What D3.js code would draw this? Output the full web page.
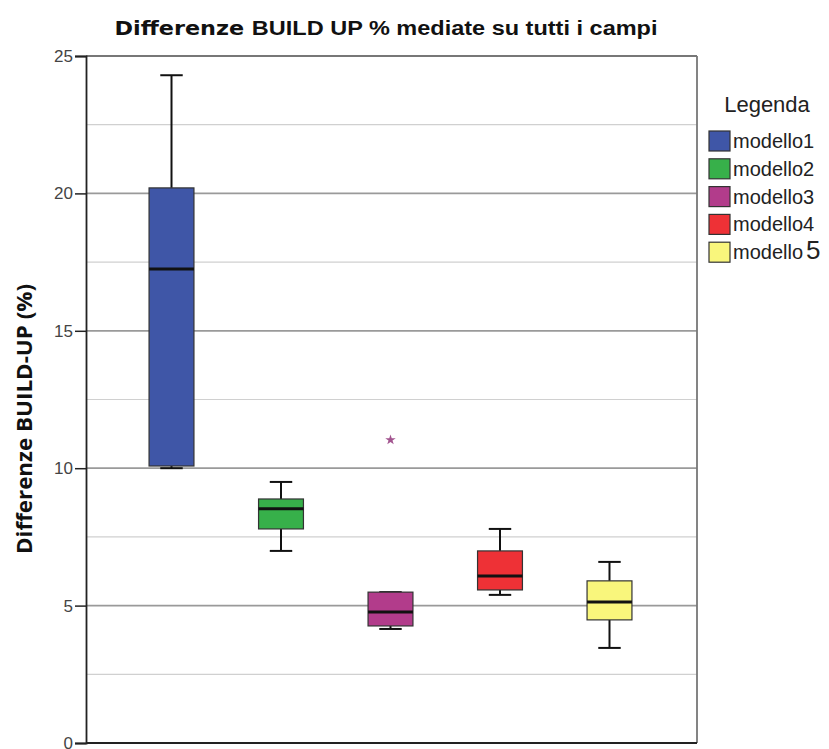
<!DOCTYPE html>
<html><head><meta charset="utf-8">
<script src="https://cdn.jsdelivr.net/npm/d3@7"></script>
<style>body{margin:0;background:#fff}</style>
</head><body>
<script>
const categories = ["modello1","modello2","modello3","modello4","modello5"];
const colors = ["#3f56a7","#37b04a","#b23c8b","#ee3136","#f9f67c"];
const whiskerLow  = [10.0, 6.99, 4.15, 5.39, 3.46];
const q1          = [10.08, 7.79, 4.26, 5.57, 4.48];
const medians     = [17.25, 8.52, 4.77, 6.08, 5.13];
const q3          = [20.2, 8.88, 5.49, 6.99, 5.90];
const whiskerHigh = [24.3, 9.5, 5.49, 7.79, 6.59];
const outliers    = [{cat:"modello3", value:11.03}];
const yTicks = [0,5,10,15,20,25];
const minorTicks = [2.5,7.5,12.5,17.5,22.5];

const W=829,H=749;
const m={left:86,right:132,top:56,bottom:6};
const pw=W-m.left-m.right, ph=H-m.top-m.bottom;
const svg=d3.select("body").append("svg").attr("width",W).attr("height",H);
const g=svg.append("g").attr("transform",`translate(${m.left},${m.top})`);
const y=d3.scaleLinear().domain([0,25]).range([ph,0]);
const x=d3.scaleBand().domain(categories).range([0,pw]).paddingInner(0).paddingOuter(0.29);
const bw=x.bandwidth()*0.41;

// grid
g.selectAll(".minor").data(minorTicks).join("line")
 .attr("x1",0).attr("x2",pw).attr("y1",d=>y(d)).attr("y2",d=>y(d))
 .attr("stroke","#d0d0d0").attr("stroke-width",1.2);
g.selectAll(".major").data(yTicks.filter(t=>t>0&&t<25)).join("line")
 .attr("x1",0).attr("x2",pw).attr("y1",d=>y(d)).attr("y2",d=>y(d))
 .attr("stroke","#9a9a9a").attr("stroke-width",1.8);
g.append("line").attr("x1",0).attr("x2",pw).attr("y1",y(25)).attr("y2",y(25)).attr("stroke","#777").attr("stroke-width",1.8);
g.append("line").attr("x1",pw).attr("x2",pw).attr("y1",0).attr("y2",ph).attr("stroke","#777").attr("stroke-width",1.8);

// boxes
const data=categories.map((c,i)=>({c,i,lo:whiskerLow[i],q1:q1[i],med:medians[i],q3:q3[i],hi:whiskerHigh[i]}));
const bg=g.selectAll(".box").data(data).join("g").attr("transform",d=>`translate(${x(d.c)+x.bandwidth()/2-1},0)`);
bg.append("line").attr("y1",d=>y(d.hi)).attr("y2",d=>y(d.q3)).attr("stroke","#111").attr("stroke-width",2);
bg.append("line").attr("y1",d=>y(d.lo)).attr("y2",d=>y(d.q1)).attr("stroke","#111").attr("stroke-width",2);
bg.append("line").attr("x1",-bw/4).attr("x2",bw/4).attr("y1",d=>y(d.hi)).attr("y2",d=>y(d.hi)).attr("stroke","#111").attr("stroke-width",2);
bg.append("line").attr("x1",-bw/4).attr("x2",bw/4).attr("y1",d=>y(d.lo)).attr("y2",d=>y(d.lo)).attr("stroke","#111").attr("stroke-width",2);
bg.append("rect").attr("x",-bw/2).attr("width",bw).attr("y",d=>y(d.q3)).attr("height",d=>y(d.q1)-y(d.q3))
 .attr("fill",d=>colors[d.i]).attr("stroke","#333").attr("stroke-width",1.2);
bg.append("line").attr("x1",-bw/2).attr("x2",bw/2).attr("y1",d=>y(d.med)).attr("y2",d=>y(d.med)).attr("stroke","#111").attr("stroke-width",3);

// outliers
g.selectAll(".out").data(outliers).join("path")
 .attr("d",d3.symbol().type(d3.symbolStar).size(34))
 .attr("transform",d=>`translate(${x(d.cat)+x.bandwidth()/2-1},${y(d.value)})`)
 .attr("fill","#a2548f");

// y axis
const ax=g.append("g").call(d3.axisLeft(y).tickValues(yTicks).tickSize(11).tickPadding(2).tickFormat(d3.format("d")));
ax.select(".domain").attr("stroke","#222").attr("stroke-width",1.8);
ax.selectAll(".tick line").attr("stroke","#222").attr("stroke-width",1.5);
ax.selectAll(".tick text").attr("font-family","Liberation Sans, Arial").attr("font-size",17).attr("fill","#444");
g.append("line").attr("x1",0).attr("x2",pw).attr("y1",ph).attr("y2",ph).attr("stroke","#222").attr("stroke-width",1.8);

// title
const t=svg.append("text").attr("x",386).attr("y",35).attr("text-anchor","middle")
 .attr("font-family","Liberation Sans, Arial").attr("font-size",20).attr("font-weight","bold").attr("fill","#111")
 .attr("textLength",543).attr("lengthAdjust","spacingAndGlyphs");
t.append("tspan").attr("font-family","DejaVu Sans").attr("font-size",19).text("Differenze ");
t.append("tspan").text("BUILD UP % mediate su tutti i campi");
// y label
svg.append("text").attr("transform","translate(32,419) rotate(-90)").attr("text-anchor","middle")
 .attr("font-family","Open Sans").attr("font-weight","bold").attr("font-size",21).attr("fill","#111")
 .attr("textLength",270).attr("lengthAdjust","spacingAndGlyphs")
 .text("Differenze BUILD-UP (%)");

// legend
const lg=svg.append("g").attr("transform","translate(709,0)");
lg.append("text").attr("x",58).attr("y",112).attr("text-anchor","middle")
 .attr("font-family","Liberation Sans, Arial").attr("font-size",22).attr("fill","#222").text("Legenda");
const li=lg.selectAll(".li").data(categories).join("g").attr("transform",(d,i)=>`translate(0,${131+i*27.8})`);
li.append("rect").attr("width",21).attr("height",20).attr("fill",(d,i)=>colors[i]).attr("stroke","#333").attr("stroke-width",1.2);
const lt=li.append("text").attr("x",24).attr("y",17).attr("font-family","Liberation Sans, Arial").attr("font-size",20).attr("fill","#222");
lt.append("tspan").text(d=>d.replace(/\d+$/,""));
lt.append("tspan").attr("font-size",(d,i)=>i===4?26:20).attr("dx",(d,i)=>i===4?3:0).text(d=>d.match(/\d+$/)[0]);
</script>
</body></html>
